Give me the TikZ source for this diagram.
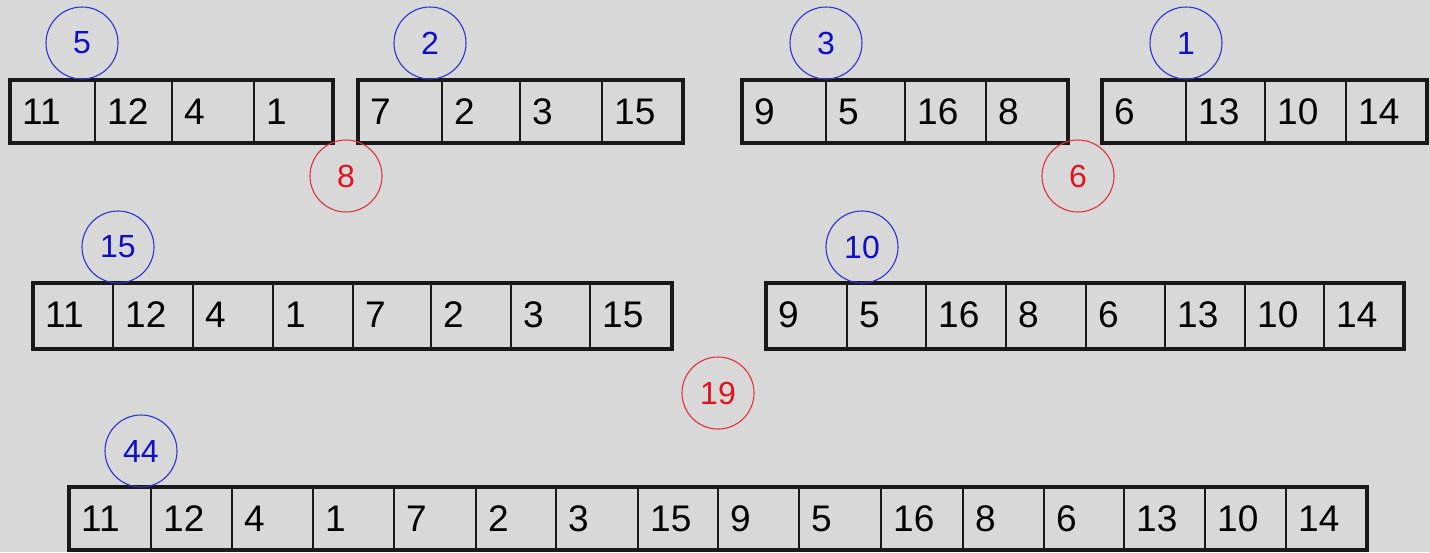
\documentclass[tikz,border=0pt]{standalone}
\usepackage{fontspec}
\setmainfont{Liberation Sans}
\definecolor{bg}{RGB}{216,216,216}
\definecolor{sumblue}{RGB}{15,15,195}
\definecolor{ringblue}{RGB}{50,50,210}
\definecolor{sumred}{RGB}{225,20,30}
\definecolor{ringred}{RGB}{225,50,60}
\tikzset{
  divider/.style={line width=1.5pt, draw=black!90},
  outer/.style={line width=3.5pt, draw=black!90},
  val/.style={anchor=base west, inner sep=0pt, font=\fontsize{37}{37}\selectfont, text=black},
  bluesum/.style={circle, draw=ringblue, line width=1.1pt, minimum size=72pt, inner sep=0pt,
    text=sumblue, font=\fontsize{32}{32}\selectfont},
  redsum/.style={circle, draw=ringred, line width=1.1pt, minimum size=72pt, inner sep=0pt,
    text=sumred, font=\fontsize{32}{32}\selectfont}
}
% #1 name, #2 top, #3 bottom, #4 first x, #5 last x, #6 list xl/xr/value
\newcommand\arrrow[6]{%
  \foreach \xl/\xr/\v [count=\i] in {#6} {
    \draw[divider] (\xl,#2) rectangle (\xr,#3);
    \node[val] (#1-\i) at (\xl+12,#2+44) {\v};
  }
  \draw[outer] (#4,#2) rectangle (#5,#3);
}
\begin{document}
\begin{tikzpicture}[x=1pt,y=-1pt]
\fill[bg] (0,0) rectangle (1430,552);
\useasboundingbox (0,0) rectangle (1430,552);
% row 1
\arrrow{a}{80}{143}{10}{333}{10/95/11, 95/172/12, 172/254/4, 254/333/1}
\arrrow{b}{80}{143}{358}{683}{358/442/7, 442/520/2, 520/602/3, 602/683/15}
\arrrow{c}{80}{143}{742}{1068}{742/826/9, 826/905/5, 905/986/16, 986/1068/8}
\arrrow{d}{80}{143}{1102}{1427}{1102/1186/6, 1186/1265/13, 1265/1346/10, 1346/1427/14}
\node[bluesum] (sa) at (82,43) {5};
\node[bluesum] (sb) at (430,43) {2};
\node[bluesum] (sc) at (826,43) {3};
\node[bluesum] (sd) at (1186,43) {1};
\node[redsum] (rab) at (346,176) {8};
\node[redsum] (rcd) at (1078,176) {6};
% row 2
\arrrow{e}{283}{349}{33}{672}{33/113/11, 113/193/12, 193/273/4, 273/353/1, 353/431/7, 431/511/2, 511/590/3, 590/672/15}
\arrrow{f}{283}{349}{766}{1404}{766/847/9, 847/926/5, 926/1006/16, 1006/1086/8, 1086/1165/6, 1165/1245/13, 1245/1324/10, 1324/1404/14}
\node[bluesum] (se) at (118,247) {15};
\node[bluesum] (sf) at (862,247) {10};
\node[redsum] (ref) at (718,393) {19};
% row 3
\arrrow{g}{487}{550}{69}{1367}{69/151/11, 151/232/12, 232/313/4, 313/394/1, 394/476/7, 476/556/2, 556/638/3, 638/718/15, 718/799/9, 799/881/5, 881/963/16, 963/1044/8, 1044/1124/6, 1124/1205/13, 1205/1286/10, 1286/1367/14}
\node[bluesum] (sg) at (141,451) {44};
\end{tikzpicture}
\end{document}
